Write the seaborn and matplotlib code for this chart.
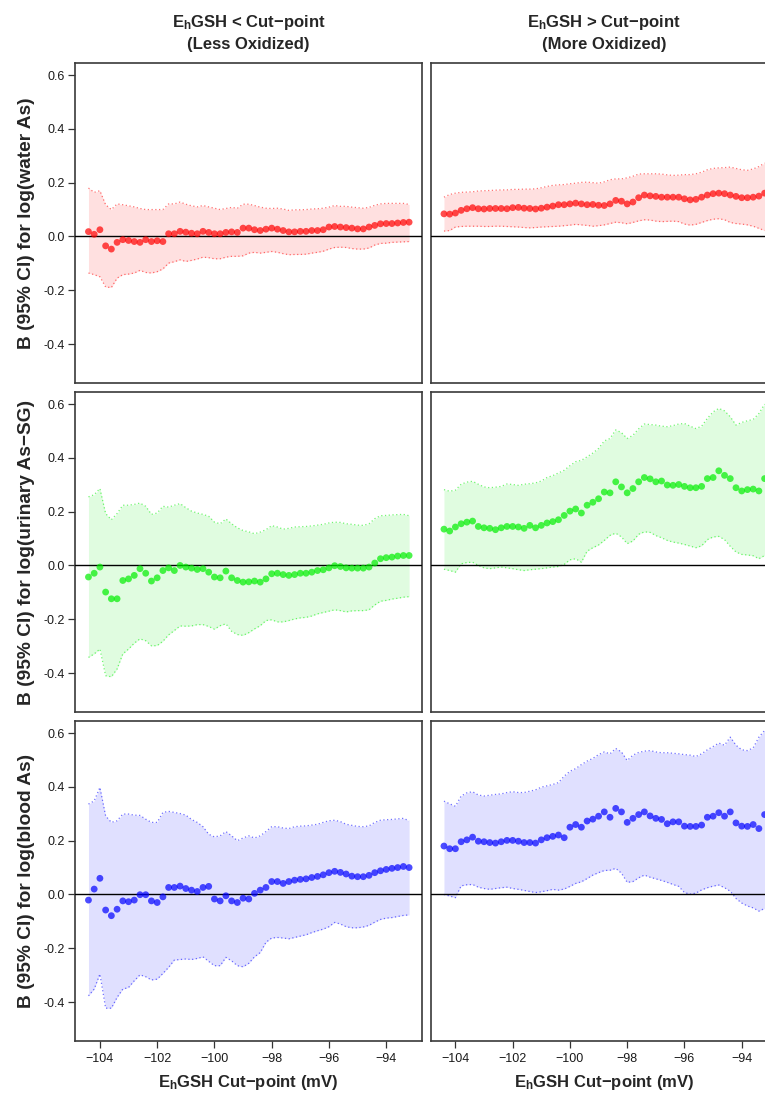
import matplotlib
matplotlib.use('Agg')
import matplotlib.pyplot as plt
import seaborn as sns

sns.set_style('white')
plt.rcParams['font.family'] = ['Liberation Sans', 'DejaVu Sans']
plt.rcParams['mathtext.fontset'] = 'custom'
plt.rcParams['mathtext.rm'] = 'Liberation Sans'
plt.rcParams['mathtext.bf'] = 'Liberation Sans:bold'
plt.rcParams['mathtext.it'] = 'Liberation Sans:italic'

# EhGSH cut-points (mV)
cut_points = [-104.4, -104.2, -104.0, -103.8, -103.6, -103.4, -103.2, -103.0, -102.8, -102.6,
              -102.4, -102.2, -102.0, -101.8, -101.6, -101.4, -101.2, -101.0, -100.8, -100.6,
              -100.4, -100.2, -100.0, -99.8, -99.6, -99.4, -99.2, -99.0, -98.8, -98.6,
              -98.4, -98.2, -98.0, -97.8, -97.6, -97.4, -97.2, -97.0, -96.8, -96.6,
              -96.4, -96.2, -96.0, -95.8, -95.6, -95.4, -95.2, -95.0, -94.8, -94.6,
              -94.4, -94.2, -94.0, -93.8, -93.6, -93.4, -93.2]

# water As, below cut-point
water_lo_est = [0.018, 0.008, 0.025, -0.035, -0.047, -0.022, -0.012, -0.015, -0.019, -0.022,
                -0.012, -0.019, -0.016, -0.019, 0.010, 0.010, 0.019, 0.016, 0.012, 0.010,
                0.019, 0.015, 0.010, 0.010, 0.015, 0.017, 0.015, 0.031, 0.031, 0.025,
                0.022, 0.027, 0.031, 0.027, 0.022, 0.017, 0.017, 0.019, 0.019, 0.022,
                0.022, 0.025, 0.035, 0.037, 0.035, 0.033, 0.031, 0.028, 0.028, 0.035,
                0.041, 0.047, 0.048, 0.048, 0.050, 0.052, 0.053]
water_lo_upper = [0.180, 0.164, 0.170, 0.118, 0.100, 0.121, 0.118, 0.114, 0.110, 0.104,
                  0.100, 0.100, 0.100, 0.100, 0.121, 0.121, 0.128, 0.120, 0.114, 0.110,
                  0.115, 0.110, 0.105, 0.100, 0.104, 0.108, 0.105, 0.120, 0.120, 0.115,
                  0.109, 0.105, 0.104, 0.105, 0.102, 0.097, 0.099, 0.099, 0.100, 0.102,
                  0.103, 0.105, 0.109, 0.115, 0.112, 0.112, 0.109, 0.107, 0.105, 0.108,
                  0.116, 0.121, 0.123, 0.123, 0.123, 0.123, 0.119]
water_lo_lower = [-0.136, -0.142, -0.150, -0.188, -0.190, -0.155, -0.142, -0.140, -0.136, -0.126,
                  -0.134, -0.136, -0.131, -0.121, -0.099, -0.094, -0.087, -0.093, -0.089, -0.084,
                  -0.077, -0.079, -0.083, -0.083, -0.077, -0.074, -0.074, -0.072, -0.062, -0.059,
                  -0.062, -0.059, -0.056, -0.059, -0.064, -0.068, -0.067, -0.067, -0.066, -0.062,
                  -0.059, -0.055, -0.047, -0.041, -0.040, -0.041, -0.045, -0.047, -0.047, -0.043,
                  -0.032, -0.026, -0.025, -0.022, -0.021, -0.020, -0.019]

# water As, above cut-point
water_hi_est = [0.084, 0.083, 0.087, 0.097, 0.103, 0.107, 0.103, 0.102, 0.104, 0.104,
                0.104, 0.103, 0.107, 0.108, 0.105, 0.104, 0.102, 0.105, 0.109, 0.113,
                0.118, 0.118, 0.121, 0.124, 0.121, 0.118, 0.119, 0.116, 0.115, 0.121,
                0.134, 0.131, 0.121, 0.128, 0.144, 0.154, 0.151, 0.149, 0.146, 0.146,
                0.146, 0.146, 0.140, 0.136, 0.138, 0.146, 0.154, 0.159, 0.161, 0.159,
                0.154, 0.149, 0.144, 0.144, 0.146, 0.150, 0.161]
water_hi_upper = [0.146, 0.156, 0.161, 0.164, 0.165, 0.166, 0.169, 0.170, 0.171, 0.172,
                  0.173, 0.173, 0.175, 0.175, 0.176, 0.176, 0.177, 0.181, 0.186, 0.190,
                  0.192, 0.193, 0.196, 0.198, 0.201, 0.202, 0.200, 0.198, 0.203, 0.211,
                  0.214, 0.214, 0.218, 0.224, 0.232, 0.233, 0.233, 0.233, 0.232, 0.229,
                  0.227, 0.228, 0.230, 0.230, 0.233, 0.239, 0.248, 0.253, 0.255, 0.256,
                  0.258, 0.253, 0.248, 0.246, 0.251, 0.260, 0.273]
water_hi_lower = [0.020, 0.022, 0.035, 0.037, 0.038, 0.038, 0.038, 0.037, 0.037, 0.038,
                  0.038, 0.037, 0.036, 0.035, 0.033, 0.032, 0.033, 0.035, 0.036, 0.037,
                  0.038, 0.040, 0.042, 0.045, 0.043, 0.041, 0.038, 0.040, 0.043, 0.048,
                  0.053, 0.051, 0.047, 0.052, 0.058, 0.062, 0.061, 0.057, 0.055, 0.056,
                  0.057, 0.055, 0.046, 0.042, 0.045, 0.052, 0.059, 0.064, 0.066, 0.062,
                  0.052, 0.048, 0.046, 0.043, 0.038, 0.030, 0.022]

# urinary As-SG, below cut-point
urine_lo_est = [-0.043, -0.029, -0.006, -0.099, -0.124, -0.124, -0.056, -0.050, -0.037, -0.012,
                -0.029, -0.058, -0.046, -0.019, -0.009, -0.019, 0.000, -0.006, -0.010, -0.015,
                -0.012, -0.025, -0.043, -0.046, -0.021, -0.046, -0.056, -0.062, -0.061, -0.058,
                -0.062, -0.050, -0.031, -0.029, -0.034, -0.037, -0.034, -0.029, -0.029, -0.025,
                -0.019, -0.016, -0.009, -0.001, -0.004, -0.009, -0.010, -0.010, -0.010, -0.006,
                0.009, 0.025, 0.029, 0.031, 0.035, 0.037, 0.037]
urine_lo_upper = [0.255, 0.263, 0.286, 0.193, 0.170, 0.193, 0.224, 0.224, 0.227, 0.232,
                  0.220, 0.190, 0.195, 0.220, 0.217, 0.224, 0.230, 0.215, 0.202, 0.195,
                  0.190, 0.183, 0.161, 0.155, 0.173, 0.155, 0.140, 0.130, 0.125, 0.118,
                  0.124, 0.133, 0.148, 0.143, 0.135, 0.138, 0.143, 0.144, 0.145, 0.147,
                  0.150, 0.153, 0.158, 0.161, 0.160, 0.155, 0.153, 0.150, 0.149, 0.155,
                  0.174, 0.185, 0.186, 0.188, 0.189, 0.190, 0.185]
urine_lo_lower = [-0.342, -0.329, -0.311, -0.410, -0.414, -0.385, -0.329, -0.311, -0.289, -0.273,
                  -0.280, -0.299, -0.298, -0.282, -0.258, -0.242, -0.225, -0.226, -0.225, -0.220,
                  -0.220, -0.227, -0.237, -0.224, -0.217, -0.245, -0.257, -0.260, -0.250, -0.236,
                  -0.224, -0.205, -0.202, -0.210, -0.210, -0.205, -0.199, -0.195, -0.193, -0.188,
                  -0.180, -0.175, -0.170, -0.165, -0.168, -0.173, -0.169, -0.168, -0.168, -0.165,
                  -0.147, -0.133, -0.130, -0.125, -0.122, -0.118, -0.116]

# urinary As-SG, above cut-point
urine_hi_est = [0.135, 0.128, 0.143, 0.155, 0.161, 0.165, 0.145, 0.140, 0.138, 0.133,
                0.140, 0.145, 0.145, 0.143, 0.138, 0.149, 0.140, 0.149, 0.158, 0.163,
                0.170, 0.186, 0.202, 0.210, 0.195, 0.224, 0.235, 0.248, 0.273, 0.270,
                0.311, 0.292, 0.270, 0.286, 0.311, 0.327, 0.322, 0.311, 0.314, 0.299,
                0.298, 0.301, 0.294, 0.289, 0.289, 0.294, 0.323, 0.327, 0.352, 0.335,
                0.323, 0.289, 0.277, 0.282, 0.284, 0.277, 0.323]
urine_hi_upper = [0.282, 0.276, 0.280, 0.302, 0.310, 0.313, 0.302, 0.292, 0.289, 0.291,
                  0.294, 0.303, 0.301, 0.298, 0.302, 0.304, 0.307, 0.314, 0.327, 0.334,
                  0.344, 0.354, 0.371, 0.386, 0.391, 0.404, 0.418, 0.435, 0.463, 0.472,
                  0.504, 0.494, 0.472, 0.484, 0.508, 0.526, 0.524, 0.522, 0.518, 0.516,
                  0.520, 0.526, 0.528, 0.518, 0.509, 0.518, 0.547, 0.571, 0.584, 0.575,
                  0.553, 0.522, 0.532, 0.538, 0.543, 0.565, 0.600]
urine_hi_lower = [-0.014, -0.019, -0.025, 0.006, 0.011, 0.012, 0.000, -0.009, -0.012, -0.009,
                  -0.006, -0.009, -0.012, -0.016, -0.019, -0.016, -0.014, -0.012, -0.009, -0.006,
                  -0.004, 0.004, 0.021, 0.025, 0.012, 0.053, 0.066, 0.076, 0.093, 0.112,
                  0.120, 0.106, 0.081, 0.091, 0.116, 0.125, 0.123, 0.111, 0.103, 0.093,
                  0.087, 0.083, 0.078, 0.072, 0.066, 0.073, 0.096, 0.106, 0.108, 0.096,
                  0.071, 0.050, 0.041, 0.039, 0.036, 0.025, 0.037]

# blood As, below cut-point
blood_lo_est = [-0.021, 0.020, 0.060, -0.058, -0.079, -0.055, -0.024, -0.027, -0.021, -0.001,
                -0.001, -0.024, -0.030, -0.009, 0.026, 0.026, 0.031, 0.022, 0.016, 0.011,
                0.026, 0.030, -0.017, -0.024, -0.005, -0.024, -0.030, -0.014, -0.017, 0.004,
                0.016, 0.026, 0.048, 0.048, 0.041, 0.048, 0.053, 0.056, 0.058, 0.063,
                0.067, 0.073, 0.081, 0.086, 0.082, 0.076, 0.068, 0.066, 0.066, 0.071,
                0.081, 0.088, 0.093, 0.097, 0.100, 0.104, 0.100]
blood_lo_upper = [0.336, 0.348, 0.398, 0.292, 0.268, 0.274, 0.299, 0.299, 0.295, 0.294,
                  0.280, 0.268, 0.268, 0.305, 0.309, 0.305, 0.301, 0.295, 0.279, 0.268,
                  0.252, 0.224, 0.214, 0.218, 0.234, 0.218, 0.200, 0.210, 0.218, 0.210,
                  0.218, 0.234, 0.252, 0.252, 0.247, 0.245, 0.252, 0.254, 0.255, 0.258,
                  0.261, 0.268, 0.274, 0.276, 0.271, 0.261, 0.257, 0.253, 0.252, 0.255,
                  0.268, 0.276, 0.278, 0.279, 0.281, 0.283, 0.274]
blood_lo_lower = [-0.377, -0.352, -0.296, -0.423, -0.423, -0.383, -0.352, -0.346, -0.321, -0.299,
                  -0.306, -0.318, -0.315, -0.294, -0.271, -0.244, -0.242, -0.240, -0.242, -0.238,
                  -0.232, -0.249, -0.265, -0.265, -0.234, -0.247, -0.265, -0.269, -0.256, -0.232,
                  -0.216, -0.178, -0.162, -0.160, -0.162, -0.165, -0.160, -0.155, -0.150, -0.142,
                  -0.135, -0.129, -0.120, -0.104, -0.110, -0.120, -0.124, -0.124, -0.121, -0.115,
                  -0.103, -0.093, -0.088, -0.086, -0.082, -0.078, -0.076]

# blood As, above cut-point
blood_hi_est = [0.180, 0.170, 0.170, 0.196, 0.203, 0.213, 0.198, 0.196, 0.193, 0.191,
                0.196, 0.201, 0.201, 0.198, 0.193, 0.193, 0.191, 0.203, 0.211, 0.216,
                0.221, 0.211, 0.250, 0.260, 0.250, 0.273, 0.280, 0.291, 0.307, 0.287,
                0.320, 0.307, 0.268, 0.283, 0.297, 0.307, 0.292, 0.283, 0.279, 0.263,
                0.270, 0.270, 0.254, 0.253, 0.253, 0.258, 0.287, 0.291, 0.304, 0.291,
                0.307, 0.266, 0.254, 0.253, 0.260, 0.245, 0.297]
blood_hi_upper = [0.347, 0.337, 0.328, 0.366, 0.378, 0.382, 0.370, 0.366, 0.369, 0.372,
                  0.374, 0.379, 0.382, 0.379, 0.379, 0.384, 0.389, 0.399, 0.404, 0.409,
                  0.416, 0.440, 0.458, 0.468, 0.483, 0.496, 0.506, 0.520, 0.530, 0.523,
                  0.543, 0.530, 0.498, 0.518, 0.528, 0.533, 0.535, 0.530, 0.527, 0.527,
                  0.525, 0.523, 0.520, 0.518, 0.513, 0.523, 0.538, 0.550, 0.563, 0.555,
                  0.585, 0.555, 0.538, 0.535, 0.545, 0.585, 0.610]
blood_hi_lower = [0.000, -0.006, -0.012, 0.032, 0.036, 0.037, 0.027, 0.022, 0.019, 0.022,
                  0.025, 0.027, 0.022, 0.019, 0.015, 0.011, 0.007, 0.010, 0.014, 0.019,
                  0.016, 0.020, 0.030, 0.041, 0.047, 0.059, 0.072, 0.081, 0.089, 0.090,
                  0.097, 0.079, 0.045, 0.048, 0.062, 0.072, 0.064, 0.058, 0.052, 0.045,
                  0.037, 0.030, 0.007, 0.001, 0.005, 0.017, 0.025, 0.031, 0.035, 0.025,
                  0.012, -0.015, -0.032, -0.043, -0.050, -0.062, -0.052]

row_labels = ['B (95% CI) for log(water As)',
              'B (95% CI) for log(urinary As\u2212SG)',
              'B (95% CI) for log(blood As)']
row_colors = ['#FF0000', '#00EE00', '#0000FF']
title_line1 = [r'$\mathbf{E_h}$GSH < Cut' + '\u2212' + 'point',
               r'$\mathbf{E_h}$GSH > Cut' + '\u2212' + 'point']
title_line2 = ['(Less Oxidized)', '(More Oxidized)']
x_label = r'$\mathbf{E_h}$GSH Cut' + '\u2212' + 'point (mV)'
x_ticks = [-104, -102, -100, -98, -96, -94]
y_ticks = [-0.4, -0.2, 0.0, 0.2, 0.4, 0.6]
y_ticklabels = ['-0.4', '-0.2', '0.0', '0.2', '0.4', '0.6']

panels = [
    [(water_lo_est, water_lo_lower, water_lo_upper), (water_hi_est, water_hi_lower, water_hi_upper)],
    [(urine_lo_est, urine_lo_lower, urine_lo_upper), (urine_hi_est, urine_hi_lower, urine_hi_upper)],
    [(blood_lo_est, blood_lo_lower, blood_lo_upper), (blood_hi_est, blood_hi_lower, blood_hi_upper)],
]

W, H = 765, 1093
fig = plt.figure(figsize=(W / 100, H / 100), dpi=100)

col_left = [75, 430.5]
col_width = 347
row_top = [63, 392, 721]
row_height = 320

for r in range(3):
    color = row_colors[r]
    for c in range(2):
        est, lo, hi = panels[r][c]
        ax = fig.add_axes([col_left[c] / W, 1 - (row_top[r] + row_height) / H,
                           col_width / W, row_height / H])
        ax.fill_between(cut_points, lo, hi, color=color, alpha=0.12, linewidth=0)
        sns.lineplot(x=cut_points, y=lo, ax=ax, color=color, alpha=0.55,
                     linewidth=0.9, linestyle=(0, (1, 2)))
        sns.lineplot(x=cut_points, y=hi, ax=ax, color=color, alpha=0.55,
                     linewidth=0.9, linestyle=(0, (1, 2)))
        ax.axhline(0, color='black', linewidth=1.0, zorder=3)
        sns.scatterplot(x=cut_points, y=est, ax=ax, color=color, s=24, alpha=0.7,
                        linewidth=0, edgecolor='none', zorder=4)
        ax.set_xlim(-104.87, -92.75)
        ax.set_ylim(-0.545, 0.645)
        for sp in ax.spines.values():
            sp.set_color('#3a3a3a')
            sp.set_linewidth(1.2)
        ax.set_xticks(x_ticks)
        ax.set_xticklabels(['\u2212' + str(abs(t)) for t in x_ticks])
        ax.set_yticks(y_ticks)
        ax.set_yticklabels(y_ticklabels)
        ax.tick_params(axis='both', direction='out', length=5, width=0.9,
                       color='#333333', labelsize=9, labelcolor='#1a1a1a')
        ax.tick_params(axis='x', bottom=(r == 2), labelbottom=(r == 2), pad=4)
        ax.tick_params(axis='y', left=(c == 0), labelleft=(c == 0), pad=2.5)
        ax.set_xlabel('')
        ax.set_ylabel('')

    fig.text(27 / W, 1 - (row_top[r] + row_height / 2) / H, row_labels[r],
             rotation=90, ha='center', va='center', fontsize=13.8, fontweight='bold')

for c in range(2):
    cx = (col_left[c] + col_width / 2) / W
    fig.text(cx, 1 - 27 / H, title_line1[c], ha='center', va='baseline',
             fontsize=12, fontweight='bold')
    fig.text(cx, 1 - 49 / H, title_line2[c], ha='center', va='baseline',
             fontsize=12, fontweight='bold')
    fig.text(cx, 1 - 1087 / H, x_label, ha='center', va='baseline',
             fontsize=12, fontweight='bold')

fig.savefig('out.png', dpi=100)
